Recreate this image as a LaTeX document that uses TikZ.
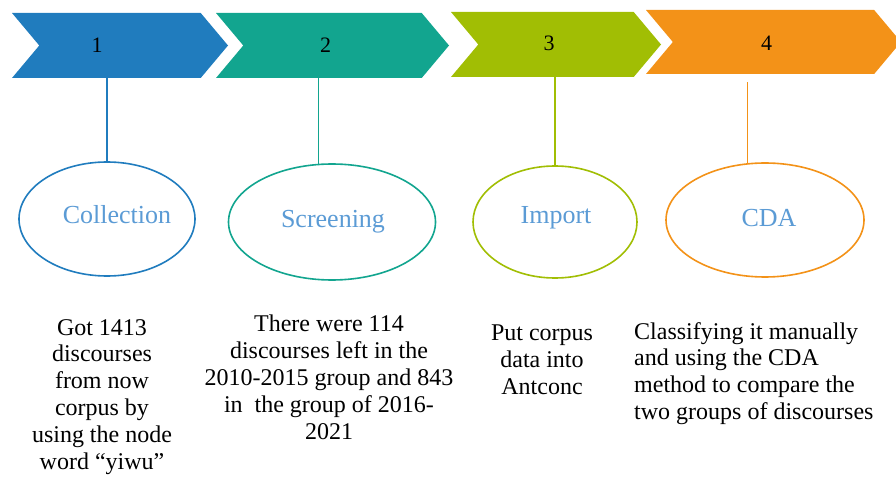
\documentclass[tikz,border=0pt]{standalone}
\usepackage{fontspec}
\setmainfont{Liberation Serif}
\usetikzlibrary{shapes.geometric,shapes.symbols,calc}
\definecolor{stepblue}{RGB}{32,124,190}
\definecolor{stepteal}{RGB}{18,165,143}
\definecolor{steplime}{RGB}{161,190,4}
\definecolor{steporange}{RGB}{243,146,24}
\definecolor{ringlabel}{RGB}{91,155,213}
\tikzset{>=latex}
\tikzset{chevron/.style={signal,signal from=west,signal to=east,signal pointer angle=100,inner sep=0pt,minimum height=65pt}}
\tikzset{stepnum/.style={font=\fontsize{22}{24}\selectfont,inner sep=0pt}}
\tikzset{stepring/.style={ellipse,draw,line width=1.6pt,inner sep=0pt}}
\tikzset{ringtext/.style={font=\fontsize{26}{28}\selectfont,text=ringlabel,inner sep=0pt}}
\tikzset{desc/.style={font=\fontsize{24}{26.8}\selectfont,inner sep=0pt}}
\tikzset{stem/.style={line width=1.6pt}}

\begin{document}
\begin{tikzpicture}[x=1pt,y=-1pt]
  \useasboundingbox (0,0) rectangle (896,478);
  % Chevrons
  \node[chevron,fill=stepblue,minimum width=216pt] (chev1) at (120,45.5) {};
  \node[chevron,fill=stepteal,minimum width=233pt] (chev2) at (332.5,45.5) {};
  \node[chevron,fill=steplime,minimum width=210pt] (chev3) at (556,44.5) {};
  \node[chevron,fill=steporange,minimum width=255pt,minimum height=64pt] (chev4) at (773.5,42) {};
  \node[stepnum] (num1) at (97,45.5) {1};
  \node[stepnum] (num2) at (325.5,45.5) {2};
  \node[stepnum] (num3) at (549,43.5) {3};
  \node[stepnum] (num4) at (766.5,43) {4};

  % Ellipses
  \node[stepring,draw=stepblue,minimum width=176pt,minimum height=114pt] (ell1) at (107,219) {};
  \node[stepring,draw=stepteal,minimum width=207pt,minimum height=116pt] (ell2) at (332,222) {};
  \node[stepring,draw=steplime,minimum width=164pt,minimum height=112pt] (ell3) at (555,222) {};
  \node[stepring,draw=steporange,minimum width=198pt,minimum height=114pt] (ell4) at (765,220) {};
  \node[ringtext] (lab1) at ($(ell1)+(10,-4)$) {Collection};
  \node[ringtext] (lab2) at ($(ell2)+(1,0)$) {Screening};
  \node[ringtext] (lab3) at ($(ell3)+(1,-4)$) {Import};
  \node[ringtext] (lab4) at ($(ell4)+(4,-2)$) {CDA};

  % Lines
  \draw[stem,stepblue] (ell1.north) -- (ell1.north |- chev1.south);
  \draw[stem,stepteal] (ell2.103) -- (ell2.103 |- chev2.south);
  \draw[stem,steplime] (ell3.north) -- (ell3.north |- chev3.south);
  \draw[stem,steporange,shorten >=8pt] (ell4.107) -- (ell4.107 |- chev4.south);

  % Descriptions
  \node[desc,align=center,anchor=north] (desc1) at (102,319) {Got 1413\\discourses\\from now\\corpus by\\using the node\\word ``yiwu''};
  \node[desc,align=center,anchor=north] (desc2) at (329,315) {There were 114\\discourses left in the\\2010-2015 group and 843\\in\ \ the group of 2016-\\2021};
  \node[desc,align=center,anchor=north] (desc3) at (542,325) {Put corpus\\data into\\Antconc};
  \node[desc,align=left,anchor=north west] (desc4) at (634,322) {Classifying it manually\\and using the CDA\\method to compare the\\two groups of discourses};
\end{tikzpicture}
\end{document}
